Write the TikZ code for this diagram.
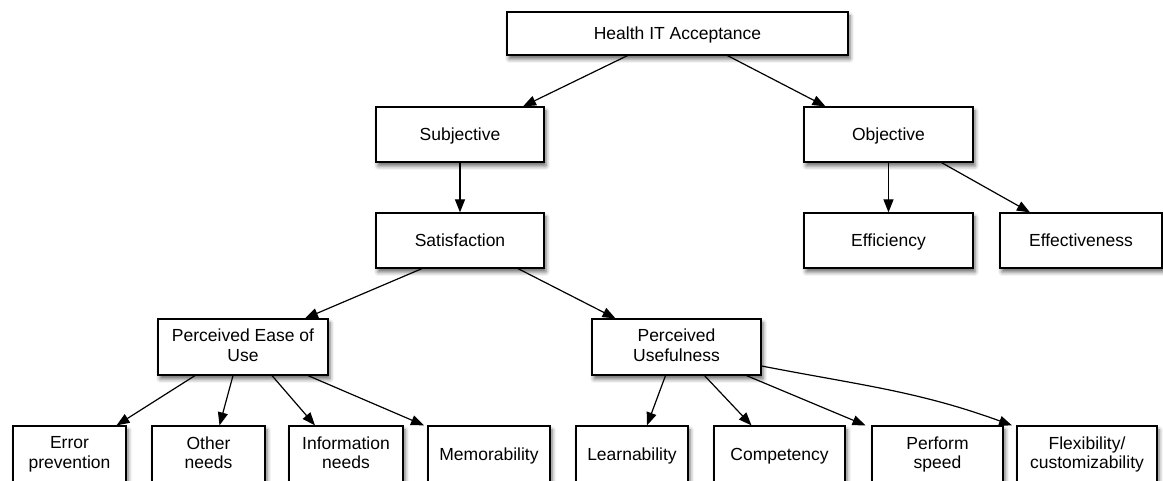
\documentclass[tikz,border=0pt]{standalone}
\usepackage{fontspec}
\setmainfont{Liberation Sans}
\usetikzlibrary{arrows.meta,shadows.blur}
\newcommand{\boxstrut}{\rule[-3.9pt]{0pt}{20.4pt}}

\begin{document}
\begin{tikzpicture}[x=1pt,y=1pt,
        >={Triangle[length=13pt,width=10pt]},
        box/.style={draw, line width=1.2pt, fill=white, align=center, inner sep=2pt,
            minimum height=55pt, font=\fontsize{17.5}{19.5}\selectfont,
            execute at begin node=\boxstrut, execute at end node=\boxstrut,
            blur shadow={shadow xshift=2pt, shadow yshift=-4pt,
                shadow blur radius=4pt, shadow opacity=60}},
        link/.style={->, line width=1.2pt}]
        \useasboundingbox (0,0) rectangle (1163,481);
        % top levels
        \node[box, minimum width=341pt, minimum height=43pt] (hit) at (677.5,447.5) {Health IT Acceptance};
        \node[box, minimum width=168pt] (subj) at (460,346.5) {Subjective};
        \node[box, minimum width=169pt] (obj) at (888.5,346.5) {Objective};
        \node[box, minimum width=168pt] (sat) at (460,240.5) {Satisfaction};
        \node[box, minimum width=169pt] (effi) at (888.5,240.5) {Efficiency};
        \node[box, minimum width=162pt] (effe) at (1081,240.5) {Effectiveness};
        \node[box, minimum width=170pt, minimum height=56pt] (peou) at (243,134) {Perceived Ease of\\Use};
        \node[box, minimum width=169pt, minimum height=56pt] (pu) at (676.5,134) {Perceived\\Usefulness};
        % bottom row
        \node[box, minimum width=113pt, minimum height=57pt] (err) at (69.5,26.5) {Error\\prevention};
        \node[box, minimum width=113pt, minimum height=57pt] (oth) at (208.5,26.5) {Other\\needs};
        \node[box, minimum width=114pt, minimum height=57pt] (info) at (346,26.5) {Information\\needs};
        \node[box, minimum width=122pt, minimum height=57pt] (mem) at (489,26.5) {Memorability};
        \node[box, minimum width=112pt, minimum height=57pt] (learn) at (632,26.5) {Learnability};
        \node[box, minimum width=131pt, minimum height=57pt] (comp) at (779.5,26.5) {Competency};
        \node[box, minimum width=131pt, minimum height=57pt] (perf) at (937.5,26.5) {Perform\\speed};
        \node[box, minimum width=140pt, minimum height=57pt] (flex) at (1087,26.5) {Flexibility/\\customizability};
        % links
        \draw[link] ([xshift=-50pt]hit.south) -- ([xshift=63pt]subj.north);
        \draw[link] ([xshift=50pt]hit.south) -- ([xshift=-63pt]obj.north);
        \draw[link] (subj) -- (sat);
        \draw[link] (obj) -- (effi);
        \draw[link] ([xshift=53pt]obj.south) -- ([xshift=-51pt]effe.north);
        \draw[link] ([xshift=-38pt]sat.south) -- ([xshift=62pt]peou.north);
        \draw[link] ([xshift=58pt]sat.south) -- ([xshift=-61pt]pu.north);
        \draw[link] ([xshift=-48pt]peou.south) -- ([xshift=47pt]err.north);
        \draw[link] ([xshift=-10pt]peou.south) -- ([xshift=11pt]oth.north);
        \draw[link] ([xshift=29pt]peou.south) -- ([xshift=-31pt]info.north);
        \draw[link] ([xshift=65pt]peou.south) -- ([xshift=-65pt]mem.north);
        \draw[link] ([xshift=-11pt]pu.south) -- ([xshift=15pt]learn.north);
        \draw[link] ([xshift=28pt]pu.south) -- ([xshift=-28pt]comp.north);
        \draw[link] ([xshift=70pt]pu.south) -- ([xshift=-72pt]perf.north);
        \draw[link] ([yshift=-19pt]pu.east) to[out=-11,in=160] ([xshift=-75pt]flex.north);
    \end{tikzpicture}
\end{document}
